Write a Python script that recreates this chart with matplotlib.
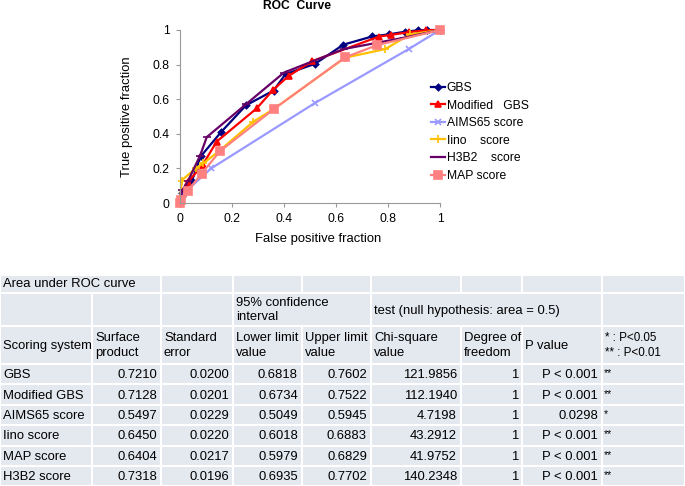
import matplotlib
matplotlib.use("Agg")
import matplotlib.pyplot as plt
from matplotlib.patches import Rectangle

plt.rcParams["font.family"] = ["Liberation Sans", "DejaVu Sans"]

# ROC curve points
gbs_fpr = [0, 0.008, 0.045, 0.08, 0.158, 0.254, 0.36, 0.406, 0.52, 0.628, 0.74, 0.805, 0.865, 0.914, 0.95, 1.0]
gbs_tpr = [0, 0.06, 0.125, 0.27, 0.41, 0.565, 0.65, 0.745, 0.805, 0.915, 0.963, 0.975, 0.99, 0.998, 1.0, 1.0]
mgbs_fpr = [0, 0.01, 0.03, 0.087, 0.141, 0.295, 0.357, 0.418, 0.509, 0.765, 0.813, 0.882, 0.946, 1.0]
mgbs_tpr = [0, 0.05, 0.12, 0.22, 0.355, 0.547, 0.652, 0.735, 0.82, 0.962, 0.972, 0.988, 0.998, 1.0]
aims_fpr = [0, 0.01, 0.12, 0.518, 0.882, 1.0]
aims_tpr = [0, 0.05, 0.2, 0.577, 0.892, 1.0]
iino_fpr = [0, 0.006, 0.06, 0.09, 0.15, 0.282, 0.362, 0.635, 0.79, 0.885, 1.0]
iino_tpr = [0, 0.13, 0.2, 0.23, 0.3, 0.47, 0.545, 0.84, 0.89, 0.975, 1.0]
h3b2_fpr = [0, 0.009, 0.03, 0.077, 0.103, 0.254, 0.40, 0.63, 0.86, 1.0]
h3b2_tpr = [0, 0.075, 0.125, 0.273, 0.381, 0.571, 0.754, 0.89, 0.955, 1.0]
map_fpr = [0, 0.004, 0.03, 0.083, 0.154, 0.362, 0.635, 0.759, 1.0]
map_tpr = [0, 0.02, 0.07, 0.17, 0.30, 0.544, 0.842, 0.913, 1.0]

# AUC table
systems = ["GBS", "Modified GBS", "AIMS65 score", "Iino score", "MAP score", "H3B2 score"]
surface = ["0.7210", "0.7128", "0.5497", "0.6450", "0.6404", "0.7318"]
std_err = ["0.0200", "0.0201", "0.0229", "0.0220", "0.0217", "0.0196"]
lower = ["0.6818", "0.6734", "0.5049", "0.6018", "0.5979", "0.6935"]
upper = ["0.7602", "0.7522", "0.5945", "0.6883", "0.6829", "0.7702"]
chi_sq = ["121.9856", "112.1940", "4.7198", "43.2912", "41.9752", "140.2348"]
dof = ["1", "1", "1", "1", "1", "1"]
p_values = ["P < 0.001", "P < 0.001", "0.0298", "P < 0.001", "P < 0.001", "P < 0.001"]
signif = ["**", "**", "*", "**", "**", "**"]

W, H = 685, 486
fig = plt.figure(figsize=(W / 100, H / 100), dpi=100)

ax = fig.add_axes([180 / W, 1 - 203 / H, 260 / W, 173 / H])
series = [
    (gbs_fpr, gbs_tpr, "GBS", "#000080", "D", 3.2),
    (mgbs_fpr, mgbs_tpr, "Modified   GBS", "#ff0000", "^", 5),
    (aims_fpr, aims_tpr, "AIMS65 score", "#9999ff", "x", 4),
    (iino_fpr, iino_tpr, "Iino    score", "#ffc000", "+", 6),
    (h3b2_fpr, h3b2_tpr, "H3B2    score", "#660066", "_", 6),
    (map_fpr, map_tpr, "MAP score", "#ff8080", "s", 5.5),
]
for fpr, tpr, label, color, marker, ms in series:
    ax.plot(fpr, tpr, color=color, marker=marker, markersize=ms, linewidth=1.6,
            markeredgewidth=1.2, label=label, clip_on=False)

ax.set_xlim(0, 1)
ax.set_ylim(0, 1)
ticks = [0, 0.2, 0.4, 0.6, 0.8, 1]
ax.set_xticks(ticks, ["0", "0.2", "0.4", "0.6", "0.8", "1"])
ax.set_yticks(ticks, ["0", "0.2", "0.4", "0.6", "0.8", "1"])
ax.tick_params(labelsize=8.7, length=3, color="#999999", pad=4.5)
for side in ["top", "right"]:
    ax.spines[side].set_visible(False)
for side in ["left", "bottom"]:
    ax.spines[side].set_color("#999999")
ax.set_xlabel("False positive fraction", fontsize=9.4)
ax.set_ylabel("True positive fraction", fontsize=9.4)
ax.xaxis.set_label_coords((318 - 180) / 260, -(233 - 203) / 173)
ax.yaxis.set_label_coords(-(180 - 133) / 260, 0.5)
fig.text(297 / W, 1 - 6 / H, "ROC  Curve", fontsize=8.7, fontweight="bold", ha="center", va="center")

ax.legend(loc="upper left", bbox_to_anchor=(431 / W, 1 - 82 / H), bbox_transform=fig.transFigure,
          frameon=False, fontsize=8.7, handlelength=1.15, handletextpad=0.15, borderpad=0,
          borderaxespad=0, labelspacing=0.46)

# table drawn in pixel coordinates
tab = fig.add_axes([0, 0, 1, 1], zorder=-1)
tab.set_xlim(0, W)
tab.set_ylim(H, 0)
tab.axis("off")

bg = "#e4e8ef"
cols = [0, 92, 161, 233, 302, 371, 461, 522, 602, 685]
data_h = 20.4


def cell(x0, x1, y0, y1):
    tab.add_patch(Rectangle((x0, y0), x1 - x0, y1 - y0, facecolor=bg, edgecolor="white", linewidth=1.5))


# header rows 0 and 1 have merged cells
for x0, x1 in [(0, 161), (161, 233), (233, 302), (302, 371), (371, 461), (461, 522), (522, 602), (602, 685)]:
    cell(x0, x1, 275, 293)
for x0, x1 in [(0, 92), (92, 161), (161, 233), (233, 371), (371, 602), (602, 685)]:
    cell(x0, x1, 293, 326)
for i in range(len(cols) - 1):
    cell(cols[i], cols[i + 1], 326, 364)
    for r in range(len(systems)):
        cell(cols[i], cols[i + 1], 364 + r * data_h, 364 + (r + 1) * data_h)

fs = 9.4
tab.text(3, 284, "Area under ROC curve", fontsize=fs, va="center")
tab.text(236, 310, "95% confidence\ninterval", fontsize=fs, va="center", linespacing=1.25)
tab.text(374, 311, "test (null hypothesis: area = 0.5)", fontsize=fs, va="center")

headers = ["Scoring system", "Surface\nproduct", "Standard\nerror", "Lower limit\nvalue", "Upper limit\nvalue",
           "Chi-square\nvalue", "Degree of\nfreedom", "P value", "* : P<0.05\n** : P<0.01"]
for i, text in enumerate(headers):
    tab.text(cols[i] + 3, 345.5, text, fontsize=fs if i < 8 else 8.4, va="center", linespacing=1.25)

columns = [surface, std_err, lower, upper, chi_sq, dof, p_values]
for r, name in enumerate(systems):
    yc = 364 + (r + 0.5) * data_h + 1
    tab.text(3, yc, name, fontsize=fs, va="center")
    for c, values in enumerate(columns):
        tab.text(cols[c + 2] - 4, yc, values[r], fontsize=fs, va="center", ha="right")
    tab.text(604, yc - 2, signif[r], fontsize=7.5, va="center")

fig.savefig("out.png", dpi=100)
